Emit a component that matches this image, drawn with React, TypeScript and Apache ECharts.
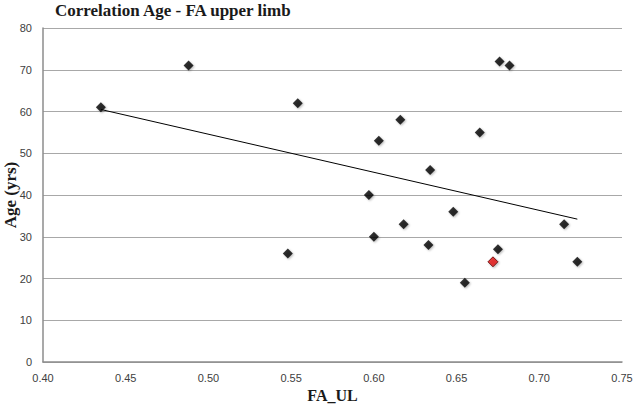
import React, { useEffect, useRef } from "react";
import * as echarts from "echarts";

const titleText = "Correlation Age - FA upper limb";
const xName = "FA_UL";
const yName = "Age (yrs)";

const faValues = [0.435, 0.488, 0.554, 0.548, 0.597, 0.6, 0.603, 0.616, 0.618, 0.633, 0.634, 0.648, 0.655, 0.664, 0.675, 0.676, 0.682, 0.715, 0.723];
const ageValues = [61, 71, 62, 26, 40, 30, 53, 58, 33, 28, 46, 36, 19, 55, 27, 72, 71, 33, 24];
const highlightFa = [0.672];
const highlightAge = [24];

const xTicks = { min: 0.4, max: 0.75, interval: 0.05 };
const yTicks = { min: 0, max: 80, interval: 10 };

export default function App() {
  const ref = useRef<HTMLDivElement>(null);
  useEffect(() => {
    if (!ref.current) return;
    const chart = echarts.init(ref.current, null, { renderer: "svg" });

    const allX = [...faValues, ...highlightFa];
    const allY = [...ageValues, ...highlightAge];
    const n = allX.length;
    const mx = allX.reduce((a, b) => a + b, 0) / n;
    const my = allY.reduce((a, b) => a + b, 0) / n;
    let sxy = 0, sxx = 0;
    for (let i = 0; i < n; i++) {
      sxy += (allX[i] - mx) * (allY[i] - my);
      sxx += (allX[i] - mx) * (allX[i] - mx);
    }
    const slope = sxy / sxx;
    const icpt = my - slope * mx;
    const x0 = Math.min(...allX);
    const x1 = Math.max(...allX);
    const trend = [[x0, icpt + slope * x0], [x1, icpt + slope * x1]];

    const mainPts = faValues.map((v, i) => [v, ageValues[i]]);
    const redPts = highlightFa.map((v, i) => [v, highlightAge[i]]);

    chart.setOption({
      animation: false,
      backgroundColor: "#ffffff",
      title: {
        text: titleText,
        left: 50,
        top: -3,
        textStyle: {
          fontFamily: "Liberation Serif",
          fontWeight: "bold",
          fontSize: 17,
          color: "#1a1a1a",
        },
      },
      grid: { left: 43, right: 16, top: 28, bottom: 44, containLabel: false, outerBoundsMode: "none" },
      xAxis: {
        type: "value",
        min: xTicks.min,
        max: xTicks.max,
        interval: xTicks.interval,
        name: xName,
        nameLocation: "middle",
        nameGap: 25,
        nameMoveOverlap: false,
        nameTextStyle: {
          fontFamily: "Liberation Serif",
          fontWeight: "bold",
          fontSize: 16,
          color: "#1a1a1a",
        },
        axisLine: { show: true, lineStyle: { color: "#8c8c8c", width: 1.5 } },
        axisTick: { show: false },
        splitLine: { show: false },
        axisLabel: {
          formatter: (v: number) => v.toFixed(2),
          fontFamily: "Liberation Sans",
          fontSize: 11,
          color: "#404040",
          margin: 10,
        },
      },
      yAxis: {
        type: "value",
        min: yTicks.min,
        max: yTicks.max,
        interval: yTicks.interval,
        name: yName,
        nameLocation: "middle",
        nameGap: 24,
        nameRotate: 90,
        nameMoveOverlap: false,
        nameTextStyle: {
          fontFamily: "Liberation Serif",
          fontWeight: "bold",
          fontSize: 17,
          color: "#1a1a1a",
        },
        axisLine: { show: true, lineStyle: { color: "#8c8c8c", width: 1.5 } },
        axisTick: { show: false },
        splitLine: { show: true, lineStyle: { color: "#a8a8a8", width: 1 } },
        axisLabel: {
          fontFamily: "Liberation Sans",
          fontSize: 11,
          color: "#404040",
          margin: 11,
        },
      },
      series: [
        {
          type: "line",
          data: trend,
          symbol: "none",
          lineStyle: { color: "#000000", width: 1 },
          silent: true,
          z: 2,
        },
        {
          type: "scatter",
          data: mainPts,
          symbol: "diamond",
          symbolSize: 10,
          itemStyle: {
            color: "#000000",
            shadowBlur: 2,
            shadowColor: "rgba(0,0,0,0.35)",
            shadowOffsetX: 1,
            shadowOffsetY: 1,
          },
          z: 3,
        },
        {
          type: "scatter",
          data: redPts,
          symbol: "diamond",
          symbolSize: 10,
          itemStyle: {
            color: "#e01010",
            borderColor: "#5a0000",
            borderWidth: 1,
            shadowBlur: 2,
            shadowColor: "rgba(0,0,0,0.35)",
            shadowOffsetX: 1,
            shadowOffsetY: 1,
          },
          z: 3,
        },
      ],
    });
    return () => chart.dispose();
  }, []);

  return (
    <div
      ref={ref}
      style={{ position: "fixed", left: 0, top: 0, width: 638, height: 406 }}
    />
  );
}
